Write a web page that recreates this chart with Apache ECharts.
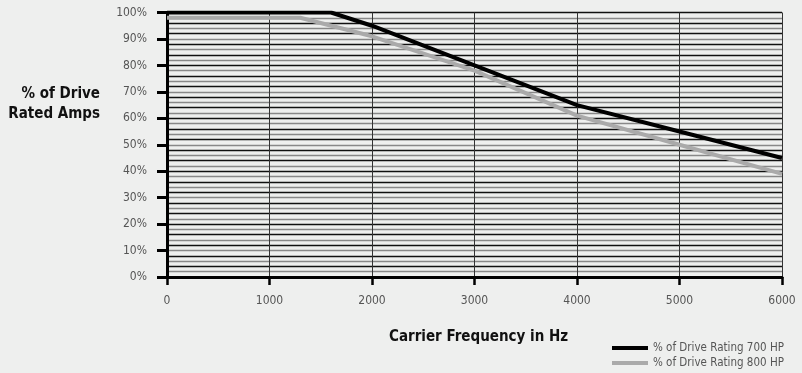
<!DOCTYPE html>
<html>
<head>
<meta charset="utf-8">
<script src="https://cdn.jsdelivr.net/npm/echarts@6/dist/echarts.min.js"></script>
<style>
  html, body { margin: 0; padding: 0; background: #eeefee; }
  #chart { width: 802px; height: 373px; }
</style>
</head>
<body>
<div id="chart"></div>
<script>
// Carrier frequency derating curves
const freqTicks = [0, 1000, 2000, 3000, 4000, 5000, 6000];
const hp700Freq = [0, 1600, 2000, 3000, 4000, 5000, 6000];
const hp700Pct  = [100, 100, 95, 80, 65, 55, 45];
const hp800Freq = [0, 1300, 2000, 3000, 4000, 5000, 6000];
const hp800Pct  = [98, 98, 91, 78, 61, 50, 39];
const seriesNames = ['% of Drive Rating 700 HP', '% of Drive Rating 800 HP'];
const yTitle = ['% of Drive', 'Rated Amps'];
const xTitle = 'Carrier Frequency in Hz';

const FONT = '"DejaVu Sans Condensed", "Liberation Sans Narrow", sans-serif';

const pairs = (xs, ys) => xs.map((x, i) => [x, ys[i]]);

const chart = echarts.init(document.getElementById('chart'), null, { renderer: 'canvas' });

chart.setOption({
  backgroundColor: '#eeefee',
  animation: false,
  grid: { left: 167, right: 20, top: 12.5, bottom: 96, containLabel: false },
  xAxis: [
    {
      type: 'value', min: freqTicks[0], max: freqTicks[freqTicks.length - 1], interval: 1000, offset: 6,
      axisLine: { show: false },
      axisTick: { show: true, length: 8, lineStyle: { color: '#000', width: 2.5 } },
      axisLabel: { margin: 12, color: '#555', fontFamily: FONT, fontSize: 12, formatter: v => String(v) },
      splitLine: { show: false }
    },
    {
      type: 'value', min: 0, max: 6000, interval: 1000, position: 'bottom',
      axisLine: { show: true, lineStyle: { color: '#000', width: 3 } },
      axisTick: { show: false }, axisLabel: { show: false },
      splitLine: { show: true, lineStyle: { color: '#333', width: 1 } }
    }
  ],
  yAxis: [
    {
      type: 'value', min: 0, max: 100, interval: 10, offset: 4,
      axisLine: { show: false },
      axisTick: { show: true, length: 10, lineStyle: { color: '#000', width: 3 } },
      axisLabel: { margin: 16, color: '#555', fontFamily: FONT, fontSize: 12, formatter: '{value}%' },
      splitLine: { show: false }
    },
    {
      type: 'value', min: 0, max: 100, interval: 2, position: 'left',
      axisLine: { show: true, lineStyle: { color: '#000', width: 3 } },
      axisTick: { show: false }, axisLabel: { show: false },
      splitLine: { show: true, lineStyle: { color: ['#111', '#888'], width: 1.3 } }
    }
  ],
  legend: {
    orient: 'vertical', left: 612, top: 342, itemGap: 3, padding: 0,
    itemWidth: 36, itemHeight: 4, icon: 'rect',
    textStyle: { color: '#555', fontFamily: FONT, fontSize: 11.5, lineHeight: 12 },
    data: seriesNames
  },
  graphic: [
    { type: 'text', x: 100, y: 84,
      style: { text: yTitle.join('\n'), fill: '#111', font: 'bold 15px ' + FONT, align: 'right', lineHeight: 20 } },
    { type: 'text', x: 389, y: 330,
      style: { text: xTitle, fill: '#111', font: 'bold 15px ' + FONT } }
  ],
  series: [
    {
      name: seriesNames[1], type: 'line', data: pairs(hp800Freq, hp800Pct),
      xAxisIndex: 0, yAxisIndex: 0, symbol: 'none', z: 3,
      lineStyle: { color: '#aaaaaa', width: 4 }, itemStyle: { color: '#aaaaaa' }
    },
    {
      name: seriesNames[0], type: 'line', data: pairs(hp700Freq, hp700Pct),
      xAxisIndex: 0, yAxisIndex: 0, symbol: 'none', z: 4,
      lineStyle: { color: '#000', width: 4 }, itemStyle: { color: '#000' }
    }
  ]
});
</script>
</body>
</html>
